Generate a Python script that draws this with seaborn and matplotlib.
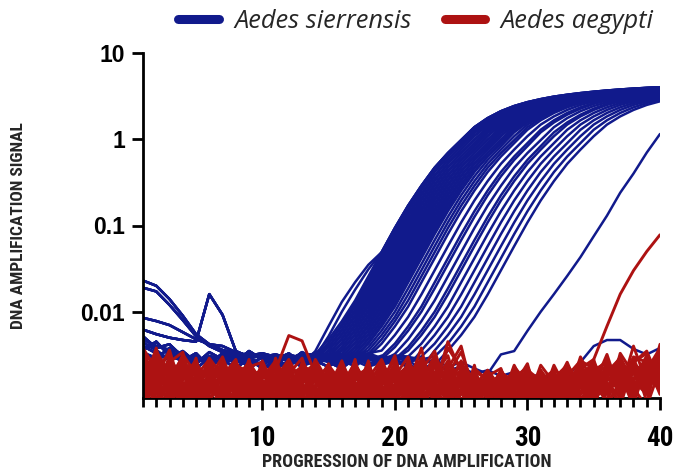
import os
import numpy as np
import pandas as pd
import matplotlib
matplotlib.use("Agg")
import matplotlib.pyplot as plt
import seaborn as sns
from matplotlib import font_manager as fm
from matplotlib.lines import Line2D
from matplotlib.font_manager import FontProperties
from matplotlib.ticker import NullLocator, FixedLocator, FixedFormatter

# ---------------- data ----------------
cycles = list(range(1, 41))

# amplification shape (log10 signal) measured at quarter-cycle offsets from the
# cycle where a curve crosses 0.01 ; offsets -3.0 .. +24.0
amp_shape_log = [
    -2.55, -2.52, -2.49, -2.45, -2.41, -2.37, -2.32, -2.27, -2.22, -2.17, -2.11, -2.06,
    -2.00, -1.94, -1.87, -1.80, -1.73, -1.66, -1.59, -1.52, -1.45, -1.38, -1.31, -1.24,
    -1.17, -1.10, -1.03, -0.965, -0.90, -0.835, -0.77, -0.71, -0.65, -0.595, -0.54, -0.485,
    -0.43, -0.38, -0.33, -0.285, -0.24, -0.20, -0.16, -0.12, -0.08, -0.045, -0.01, 0.035,
    0.08, 0.11, 0.14, 0.17, 0.195, 0.22, 0.245, 0.265, 0.285, 0.305, 0.325, 0.34,
    0.355, 0.37, 0.385, 0.398, 0.41, 0.42, 0.43, 0.44, 0.45, 0.458, 0.465, 0.472,
    0.48, 0.487, 0.494, 0.50, 0.506, 0.511, 0.516, 0.521, 0.526, 0.53, 0.535, 0.539,
    0.543, 0.547, 0.551, 0.555, 0.559, 0.562, 0.565, 0.568, 0.571, 0.574, 0.577, 0.58,
    0.582, 0.585, 0.587, 0.59, 0.592, 0.594, 0.596, 0.598, 0.60, 0.602, 0.603, 0.605, 0.606,
]

# threshold (0.01) crossing cycle of each Aedes sierrensis curve
blue_ct = [16.5, 16.75, 17.0, 17.25, 17.5, 17.75, 18.0, 18.25, 18.5, 18.75,
           19.0, 19.25, 19.5, 19.75, 20.0, 20.25, 20.5, 20.75, 21.25, 21.75, 22.0, 22.5,
           23.0, 23.25, 23.75, 24.25, 24.75, 25.25, 25.75, 26.25]
# sierrensis curves of the dense group with a slightly lower yield
blue_ct_low = [16.5, 16.75, 17.0, 17.25, 17.5, 17.75, 18.0, 18.25, 18.5, 18.75, 19.0, 19.25, 19.5]
blue_low_yield = 0.92

# baseline readings of the sierrensis curves (units of 1e-4)
blue_noise_e4 = [
    [230, 200, 140, 90, 55, 42, 36, 33, 31, 30, 32, 29, 31, 30, 28, 31, 29, 32, 30, 28, 31, 33, 29, 30, 27, 29, 31, 28, 30, 29, 27, 30, 28, 31, 29, 30, 28, 29, 31, 30],
    [48, 40, 36, 28, 31, 25, 33, 27, 24, 30, 22, 26, 34, 25, 29, 23, 28, 26, 24, 31, 27, 22, 29, 25, 26, 30, 24, 28, 23, 27, 25, 29, 26, 24, 28, 22, 27, 25, 29, 26],
    [190, 172, 120, 80, 52, 40, 34, 31, 33, 29, 30, 32, 28, 31, 30, 29, 33, 30, 27, 31, 29, 30, 32, 28, 31, 30, 29, 27, 30, 32, 29, 31, 28, 30, 27, 29, 31, 30, 28, 29],
    [40, 33, 29, 35, 26, 30, 24, 31, 28, 22, 27, 33, 25, 29, 41, 26, 24, 30, 27, 23, 29, 26, 31, 24, 28, 25, 30, 22, 27, 29, 24, 26, 30, 25, 23, 28, 26, 31, 24, 27],
    [85, 78, 70, 58, 48, 42, 40, 34, 31, 33, 30, 29, 32, 30, 31, 28, 30, 33, 29, 31, 30, 28, 32, 29, 30, 31, 28, 30, 29, 31, 30, 28, 29, 31, 30, 29, 28, 30, 31, 29],
    [36, 45, 31, 27, 33, 23, 29, 26, 35, 28, 25, 30, 24, 31, 27, 25, 30, 24, 29, 26, 23, 28, 25, 30, 27, 24, 29, 26, 22, 28, 30, 25, 27, 23, 29, 26, 24, 28, 30, 25],
    [62, 55, 50, 47, 45, 160, 92, 35, 30, 32, 29, 31, 30, 33, 28, 30, 31, 29, 30, 32, 28, 30, 29, 31, 30, 28, 31, 29, 30, 32, 29, 30, 28, 31, 29, 30, 31, 28, 30, 29],
    [52, 38, 42, 30, 25, 34, 28, 22, 29, 31, 26, 24, 29, 27, 23, 31, 26, 28, 25, 30, 26, 29, 24, 27, 31, 23, 27, 30, 26, 24, 28, 23, 29, 27, 25, 30, 28, 23, 26, 31],
    [33, 29, 38, 32, 28, 27, 31, 29, 23, 26, 30, 28, 23, 34, 26, 22, 29, 27, 31, 24, 28, 25, 30, 26, 23, 29, 25, 27, 30, 26, 22, 27, 25, 29, 24, 27, 29, 26, 28, 24],
    [44, 36, 27, 33, 22, 29, 25, 33, 27, 24, 22, 27, 31, 26, 30, 28, 23, 31, 26, 28, 24, 31, 27, 23, 29, 26, 30, 24, 28, 25, 29, 31, 24, 26, 30, 24, 27, 29, 25, 28],
]

# two sierrensis curves that leave the baseline early (cycles 14-18), then join ct 16.5
blue_early_start_cycles = [14, 15, 16, 17, 18]
blue_early_start = [
    [0.0035, 0.0068, 0.013, 0.022, 0.035],
    [0.0030, 0.0052, 0.010, 0.018, 0.031],
]

# late sierrensis curve and a non-amplifying sierrensis well (units of 1e-4)
blue_late_e4 = [30, 27, 33, 29, 25, 31, 28, 26, 30, 24, 29, 27, 31, 25, 28, 30, 26, 29, 24, 27,
                30, 25, 28, 23, 26, 22, 19, 32, 35, 60, 100, 160, 260, 430, 750, 1300, 2400,
                4000, 7000, 11500]
blue_negative_e4 = [34, 29, 31, 27, 30, 26, 28, 31, 25, 29, 27, 24, 28, 26, 30, 25, 27, 23, 26, 28,
                    24, 22, 25, 21, 23, 19, 21, 18, 20, 17, 19, 16, 18, 26, 40, 47, 47, 37, 32, 38]

# Aedes aegypti wells (units of 1e-4)
red_e4 = [
    [22, 31, 18, 9, 14, 26, 7, 19, 12, 24, 8, 15, 21, 6, 17, 11, 25, 13, 9, 20, 16, 28, 10, 7, 18, 12, 15, 9, 22, 11, 14, 19, 8, 16, 24, 12, 20, 9, 27, 18],
    [35, 12, 27, 15, 8, 19, 23, 11, 28, 6, 16, 20, 9, 14, 25, 7, 18, 22, 13, 8, 27, 11, 19, 31, 9, 15, 7, 13, 18, 10, 21, 6, 14, 26, 11, 17, 30, 13, 8, 22],
    [9, 24, 14, 32, 19, 5, 16, 27, 8, 18, 22, 12, 6, 26, 10, 19, 14, 7, 24, 17, 9, 21, 35, 12, 16, 8, 20, 11, 6, 17, 9, 24, 12, 18, 7, 28, 14, 22, 16, 31],
    [28, 17, 36, 11, 22, 13, 9, 21, 15, 7, 29, 11, 18, 13, 8, 23, 6, 17, 28, 12, 19, 7, 15, 22, 40, 10, 13, 18, 9, 20, 15, 11, 23, 9, 19, 15, 8, 26, 33, 12],
    [14, 38, 9, 25, 12, 29, 18, 6, 22, 13, 11, 27, 15, 9, 20, 14, 26, 10, 15, 31, 8, 17, 12, 18, 9, 22, 16, 8, 14, 25, 7, 16, 10, 30, 14, 21, 17, 11, 19, 36],
    [31, 8, 21, 18, 27, 10, 14, 25, 9, 20, 17, 7, 24, 19, 12, 6, 21, 16, 11, 23, 14, 38, 8, 26, 13, 17, 10, 21, 12, 7, 18, 13, 26, 11, 16, 9, 33, 19, 24, 14],
    [18, 26, 11, 29, 7, 17, 30, 12, 19, 8, 23, 14, 10, 28, 15, 18, 9, 27, 7, 14, 22, 11, 29, 16, 8, 24, 6, 15, 20, 13, 9, 22, 15, 7, 21, 26, 12, 40, 15, 27],
    [6, 19, 25, 14, 21, 8, 12, 17, 26, 15, 9, 19, 29, 11, 7, 22, 15, 12, 19, 9, 26, 16, 13, 45, 20, 9, 14, 10, 17, 23, 11, 14, 7, 20, 12, 18, 23, 9, 30, 20],
    [25, 14, 7, 20, 16, 23, 11, 9, 14, 21, 13, 25, 8, 17, 23, 10, 28, 5, 21, 16, 11, 20, 9, 14, 27, 12, 18, 22, 8, 13, 19, 10, 17, 13, 25, 8, 16, 21, 11, 42],
    [12, 30, 20, 8, 11, 15, 26, 14, 7, 17, 27, 9, 16, 22, 13, 27, 11, 20, 14, 25, 8, 13, 24, 10, 17, 6, 21, 13, 16, 9, 24, 15, 20, 8, 14, 32, 11, 17, 23, 16],
    [38, 21, 13, 23, 9, 20, 8, 22, 17, 11, 14, 18, 23, 8, 19, 13, 16, 23, 10, 18, 30, 9, 17, 21, 11, 19, 12, 7, 23, 15, 12, 8, 13, 22, 17, 13, 26, 14, 20, 25],
    [16, 9, 29, 17, 24, 12, 19, 7, 23, 26, 10, 21, 12, 16, 9, 21, 7, 14, 26, 11, 15, 24, 13, 8, 22, 15, 10, 17, 13, 19, 6, 17, 24, 15, 9, 20, 15, 29, 12, 34],
    [27, 16, 22, 6, 18, 28, 13, 16, 10, 19, 24, 6, 19, 25, 14, 8, 19, 11, 17, 22, 13, 18, 26, 14, 9, 20, 17, 11, 8, 21, 16, 12, 18, 27, 22, 11, 19, 8, 28, 13],
    [8, 33, 15, 27, 13, 9, 22, 18, 13, 8, 17, 28, 14, 11, 21, 16, 12, 26, 9, 13, 19, 8, 15, 27, 16, 11, 8, 19, 14, 10, 13, 20, 9, 12, 18, 24, 13, 21, 17, 29],
    [20, 11, 31, 13, 25, 16, 10, 24, 20, 14, 21, 12, 17, 20, 6, 24, 14, 17, 12, 20, 7, 25, 11, 19, 34, 13, 16, 9, 24, 12, 18, 9, 15, 19, 10, 16, 22, 16, 31, 19],
    [33, 24, 10, 19, 15, 22, 17, 13, 9, 27, 12, 16, 9, 14, 18, 11, 22, 8, 16, 28, 11, 14, 20, 9, 15, 18, 11, 21, 10, 16, 8, 14, 22, 11, 26, 14, 9, 24, 14, 22],
    [11, 20, 26, 34, 10, 14, 27, 9, 16, 12, 18, 8, 26, 15, 11, 17, 9, 20, 13, 7, 23, 16, 31, 13, 12, 8, 19, 14, 17, 7, 21, 13, 17, 9, 13, 19, 28, 11, 21, 38],
    [24, 7, 17, 12, 29, 7, 15, 20, 11, 23, 9, 24, 11, 7, 22, 14, 18, 12, 23, 15, 18, 10, 14, 38, 22, 16, 10, 12, 21, 14, 11, 18, 10, 23, 15, 12, 17, 19, 13, 26],
    [17, 27, 12, 21, 8, 18, 11, 15, 24, 10, 16, 13, 20, 18, 12, 25, 10, 15, 8, 19, 12, 27, 9, 17, 11, 14, 21, 7, 16, 19, 14, 10, 12, 16, 28, 9, 14, 30, 26, 11],
    [30, 13, 24, 9, 19, 13, 24, 10, 17, 13, 22, 10, 15, 23, 8, 13, 20, 9, 17, 12, 26, 13, 20, 11, 18, 10, 15, 18, 11, 9, 16, 21, 8, 14, 11, 23, 20, 12, 16, 24],
    [13, 35, 19, 16, 23, 9, 18, 28, 8, 20, 15, 26, 7, 12, 16, 19, 13, 24, 11, 20, 9, 16, 28, 7, 13, 21, 9, 16, 19, 12, 8, 15, 19, 11, 17, 15, 10, 26, 35, 15],
    [26, 18, 8, 28, 14, 21, 7, 13, 22, 16, 11, 14, 22, 17, 10, 8, 24, 14, 19, 10, 14, 21, 12, 16, 24, 11, 17, 8, 13, 22, 10, 17, 13, 25, 12, 20, 29, 16, 11, 30],
    [7, 22, 33, 10, 17, 11, 20, 16, 12, 9, 25, 17, 10, 21, 13, 22, 15, 7, 20, 13, 17, 11, 23, 18, 9, 15, 12, 20, 15, 8, 20, 12, 16, 7, 20, 27, 14, 22, 18, 21],
    [19, 10, 15, 24, 11, 25, 15, 9, 18, 21, 8, 20, 13, 9, 24, 15, 8, 17, 14, 23, 10, 19, 15, 9, 20, 17, 13, 11, 18, 16, 13, 9, 21, 14, 10, 13, 18, 9, 24, 17],
    [36, 15, 21, 14, 20, 8, 12, 23, 14, 11, 19, 9, 18, 16, 14, 10, 17, 21, 12, 16, 22, 14, 17, 13, 15, 10, 19, 14, 9, 13, 17, 14, 11, 18, 24, 17, 12, 17, 14, 28],
    [15, 29, 11, 19, 9, 16, 21, 11, 20, 16, 13, 23, 11, 24, 9, 18, 13, 10, 24, 9, 16, 29, 10, 21, 14, 12, 8, 17, 12, 20, 11, 16, 13, 21, 15, 9, 24, 13, 20, 12],
    [23, 12, 26, 8, 16, 19, 9, 18, 8, 24, 17, 12, 21, 8, 17, 12, 21, 16, 9, 18, 12, 8, 18, 14, 26, 9, 16, 10, 19, 11, 15, 7, 18, 10, 13, 22, 15, 28, 9, 33],
    [10, 25, 17, 30, 12, 14, 17, 26, 15, 12, 10, 18, 15, 19, 12, 20, 11, 13, 18, 11, 20, 15, 24, 10, 12, 19, 11, 15, 13, 17, 9, 19, 11, 14, 19, 11, 21, 10, 22, 18],
    [29, 17, 9, 18, 24, 10, 13, 15, 21, 9, 14, 16, 8, 13, 19, 9, 16, 18, 14, 21, 9, 17, 13, 19, 11, 14, 18, 12, 10, 14, 12, 15, 9, 17, 12, 25, 18, 14, 17, 23],
    [12, 31, 20, 11, 17, 22, 16, 8, 11, 19, 21, 11, 17, 22, 11, 15, 19, 8, 22, 13, 15, 12, 20, 16, 21, 8, 13, 16, 14, 9, 18, 11, 14, 8, 22, 14, 11, 20, 25, 15],
    [21, 14, 28, 15, 10, 15, 10, 21, 13, 15, 9, 14, 24, 10, 16, 13, 12, 20, 10, 17, 24, 16, 9, 22, 14, 16, 10, 13, 17, 12, 10, 16, 12, 19, 16, 20, 23, 15, 13, 27],
    [17, 20, 13, 25, 21, 12, 18, 14, 17, 10, 16, 22, 12, 18, 14, 11, 14, 11, 18, 8, 13, 19, 14, 12, 17, 13, 15, 9, 11, 16, 14, 13, 17, 15, 11, 18, 13, 25, 19, 20],
    [15, 22, 10, 18, 13, 9, 20, 14, 11, 17, 21, 53, 46, 19, 12, 16, 10, 21, 14, 9, 18, 13, 17, 11, 20, 15, 12, 9, 16, 14, 11, 18, 10, 15, 21, 13, 17, 12, 19, 24],
    [18, 12, 25, 9, 16, 21, 11, 14, 19, 8, 15, 22, 10, 17, 13, 20, 9, 15, 24, 12, 18, 10, 16, 21, 13, 9, 17, 12, 15, 10, 14, 18, 16, 22, 28, 68, 160, 300, 500, 780],
]

species = ["Aedes sierrensis", "Aedes aegypti"]
BLUE = "#111a8c"
RED = "#ad1212"

# ---------------- build long-form tables ----------------
cid = 0
def add_curve(rows, values, sp):
    global cid
    for c, v in zip(cycles, values):
        rows.append((cid, sp, c, v))
    cid += 1

def amplified(ct, noise_row, yield_factor=1.0):
    vals = []
    for c in cycles:
        k = c - ct
        if k < -3:
            vals.append(noise_row[c - 1] * 1e-4)
        else:
            vals.append(yield_factor * 10 ** amp_shape_log[int(round((k + 3) * 4))])
    return vals

rows_blue = []
for i, ct in enumerate(blue_ct):
    add_curve(rows_blue, amplified(ct, blue_noise_e4[(i * 3) % len(blue_noise_e4)]), species[0])
for i, ct in enumerate(blue_ct_low):
    add_curve(rows_blue, amplified(ct, blue_noise_e4[(i * 7 + 1) % len(blue_noise_e4)], blue_low_yield), species[0])
for j, early in enumerate(blue_early_start):
    vals = amplified(16.5, blue_noise_e4[(j + 5) % len(blue_noise_e4)])
    for c, v in zip(blue_early_start_cycles, early):
        vals[c - 1] = v
    add_curve(rows_blue, vals, species[0])
add_curve(rows_blue, [v * 1e-4 for v in blue_late_e4], species[0])
add_curve(rows_blue, [v * 1e-4 for v in blue_negative_e4], species[0])

rows_red = []
for r in red_e4:
    add_curve(rows_red, [v * 1e-4 for v in r], species[1])

cols = ["curve", "species", "cycle", "signal"]
df_blue = pd.DataFrame(rows_blue, columns=cols)
df_red = pd.DataFrame(rows_red, columns=cols)

# ---------------- fonts ----------------
sns.set_style("ticks")
plt.rcParams["font.family"] = ["Liberation Sans", "DejaVu Sans"]


def condensed_font():
    prefs = ["roboto", "liberation sans", "noto sans", "open sans", "dejavu sans", "lato", "inter"]
    best, best_score = None, None
    for f in fm.fontManager.ttflist:
        n = f.name.lower()
        base = os.path.basename(f.fname).lower()
        st = str(f.stretch).lower()
        cond = ("narrow" in n or "condensed" in n or "condensed" in base or "narrow" in base
                or st in ("condensed", "semi-condensed", "extra-condensed"))
        if not cond or f.style != "normal" or "italic" in base or "mono" in n or "serif" in n.replace("sans", ""):
            continue
        try:
            w = int(f.weight)
        except (TypeError, ValueError):
            w = 700 if "bold" in str(f.weight) else 400
        if "extrabold" in base or "black" in base:
            w = 850
        pref = 0
        for i, fam in enumerate(prefs):
            if n.startswith(fam):
                pref = len(prefs) - i
                break
        xc = 1 if ("extra" in base or "ultra" in base or "semi" in base or "semi" in st) else 0
        score = (-abs(w - 700), -xc, pref)
        if best_score is None or score > best_score:
            best, best_score = f, score
    return best


cf = condensed_font()
if cf is not None:
    def NARROW(size):
        return FontProperties(fname=cf.fname, size=size)
    xt_size, xl_size, yl_size = 19.5, 13, 12.5
else:
    def NARROW(size):
        return FontProperties(family="DejaVu Sans", weight="bold", size=size)
    xt_size, xl_size, yl_size = 16, 10.5, 10

# ---------------- figure ----------------
fig = plt.figure(figsize=(6.91, 4.74), dpi=100)
ax = fig.add_axes([143 / 691, 1 - 398 / 474, (660 - 143) / 691, (398 - 53) / 474])
ax.set_yscale("log")

sns.lineplot(data=df_blue, x="cycle", y="signal", units="curve", estimator=None,
             color=BLUE, lw=1.8, legend=False, ax=ax)
sns.lineplot(data=df_red, x="cycle", y="signal", units="curve", estimator=None,
             color=RED, lw=2.1, legend=False, ax=ax)

ax.set_xlim(1, 40)
ax.set_ylim(0.001, 10)

ax.xaxis.set_major_locator(FixedLocator([10, 20, 30, 40]))
ax.xaxis.set_minor_locator(FixedLocator(cycles))
ax.xaxis.set_major_formatter(FixedFormatter(["10", "20", "30", "40"]))
ax.yaxis.set_major_locator(FixedLocator([0.01, 0.1, 1, 10]))
ax.yaxis.set_major_formatter(FixedFormatter(["0.01", "0.1", "1", "10"]))
ax.yaxis.set_minor_locator(NullLocator())

ax.tick_params(axis="x", which="major", length=8.5, width=2, pad=11, colors="black")
ax.tick_params(axis="x", which="minor", length=6.5, width=2, colors="black")
ax.tick_params(axis="y", which="major", length=8, width=2, pad=5, colors="black")
for lab in ax.get_xticklabels():
    lab.set_fontproperties(NARROW(xt_size))
for lab in ax.get_yticklabels():
    lab.set_fontfamily(["Liberation Sans", "DejaVu Sans"])
    lab.set_fontweight("bold")
    lab.set_fontsize(16.5)

for s in ["top", "right"]:
    ax.spines[s].set_visible(False)
for s in ["left", "bottom"]:
    ax.spines[s].set_linewidth(2)
    ax.spines[s].set_color("black")
ax.spines["bottom"].set_zorder(1)

ax.set_xlabel("PROGRESSION OF DNA AMPLIFICATION", fontproperties=NARROW(xl_size), va="center")
ax.xaxis.set_label_coords(0.51, -0.186)
ax.set_ylabel("DNA AMPLIFICATION SIGNAL", fontproperties=NARROW(yl_size), va="center")
ax.yaxis.set_label_coords(-0.24, 0.5)

handles = [Line2D([0], [0], color=BLUE, lw=6.5, solid_capstyle="round"),
           Line2D([0], [0], color=RED, lw=6.5, solid_capstyle="round")]
fig.legend(handles, species, loc="center", bbox_to_anchor=(0.602, 0.955), ncol=2,
           frameon=False, prop=FontProperties(family="Open Sans", style="italic", size=18.3),
           handlelength=1.6, handletextpad=0.6, columnspacing=1.3)

fig.savefig("out.png", dpi=100)
